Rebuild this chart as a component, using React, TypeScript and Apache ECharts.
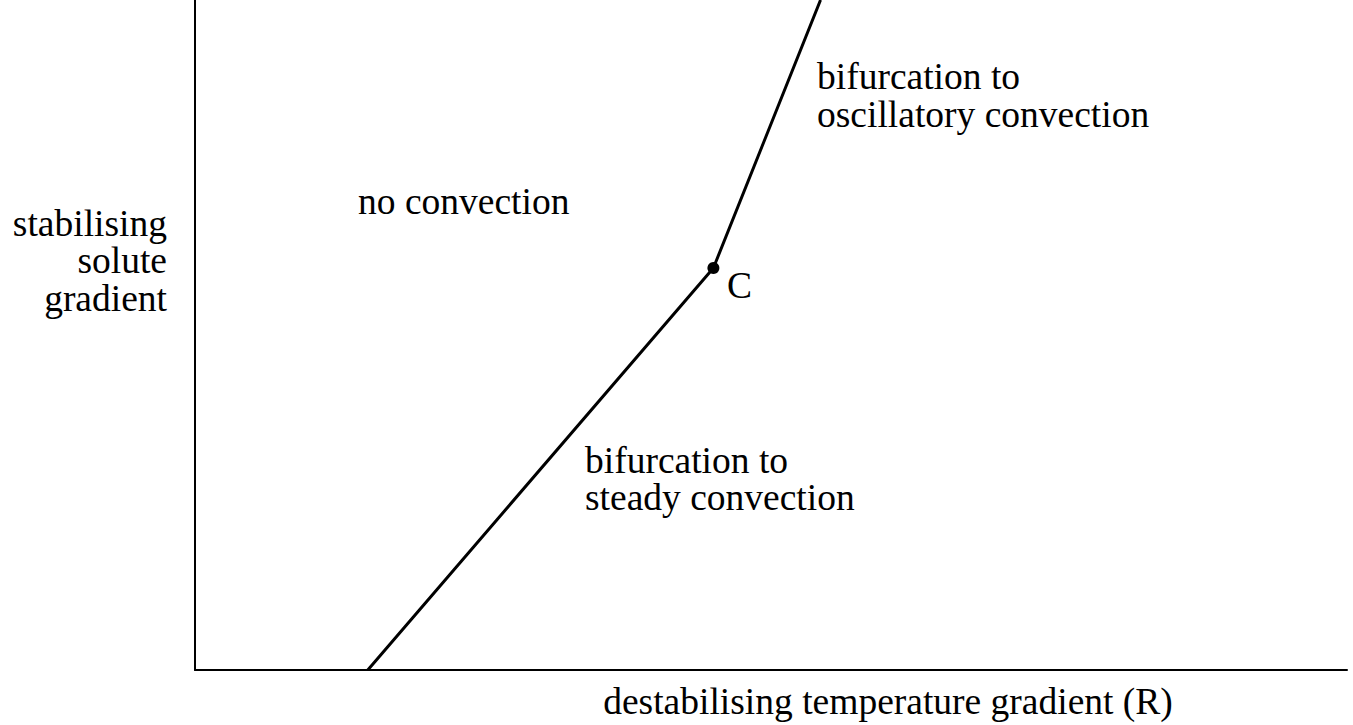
import React, { useEffect, useRef } from "react";
import * as echarts from "echarts";

// Stability boundary (arbitrary units, 0..100 on both axes)
const boundaryX = [15, 45, 54.3];
const boundaryY = [0, 60, 100];
// Codimension-two point C
const pointC = [45, 60];

const yAxisLabelLines = ["stabilising", "solute", "gradient"];
const xAxisLabel = "destabilising temperature gradient (R)";
const regionNoConvection = "no convection";
const oscillatoryLines = ["bifurcation to", "oscillatory convection"];
const steadyLines = ["bifurcation to", "steady convection"];
const pointLabel = "C";

const FONT = '"Liberation Serif", "Times New Roman", Times, serif';
const FS = 37.5;

export default function App() {
  const ref = useRef<HTMLDivElement>(null);
  useEffect(() => {
    document.body.style.margin = "0";
    const chart = echarts.init(ref.current!, null, { renderer: "svg" });
    const txt = (text: string, x: number, y: number, align: string = "left") => ({
      type: "text",
      x,
      y,
      silent: true,
      style: {
        text,
        fill: "#000",
        fontSize: FS,
        fontFamily: FONT,
        align,
        verticalAlign: "middle",
      },
    });
    const graphics: any[] = [];
    yAxisLabelLines.forEach((t, i) => graphics.push(txt(t, 167, 223 + i * 37.5, "right")));
    graphics.push(txt(xAxisLabel, 888, 701, "center"));
    graphics.push(txt(regionNoConvection, 358, 201));
    oscillatoryLines.forEach((t, i) => graphics.push(txt(t, 817, 76 + i * 38)));
    steadyLines.forEach((t, i) => graphics.push(txt(t, 585, 460 + i * 37.5)));
    graphics.push(txt(pointLabel, 727, 285));

    chart.setOption({
      animation: false,
      grid: { left: 195, right: 6, top: 0, bottom: 55, containLabel: false },
      xAxis: {
        type: "value",
        min: 0,
        max: 100,
        axisLine: { show: true, lineStyle: { color: "#000", width: 2 } },
        axisTick: { show: false },
        axisLabel: { show: false },
        splitLine: { show: false },
      },
      yAxis: {
        type: "value",
        min: 0,
        max: 100,
        axisLine: { show: true, lineStyle: { color: "#000", width: 2 } },
        axisTick: { show: false },
        axisLabel: { show: false },
        splitLine: { show: false },
      },
      series: [
        {
          type: "line",
          data: boundaryX.map((x, i) => [x, boundaryY[i]]),
          showSymbol: false,
          symbol: "none",
          lineStyle: { color: "#000", width: 3 },
          clip: true,
          z: 3,
        },
        {
          type: "scatter",
          data: [pointC],
          symbol: "circle",
          symbolSize: 12,
          itemStyle: { color: "#000", opacity: 1 },
          emphasis: { disabled: true },
          z: 4,
        },
      ],
      graphic: graphics,
    });
    return () => chart.dispose();
  }, []);
  return <div ref={ref} style={{ width: 1353, height: 725 }} />;
}
